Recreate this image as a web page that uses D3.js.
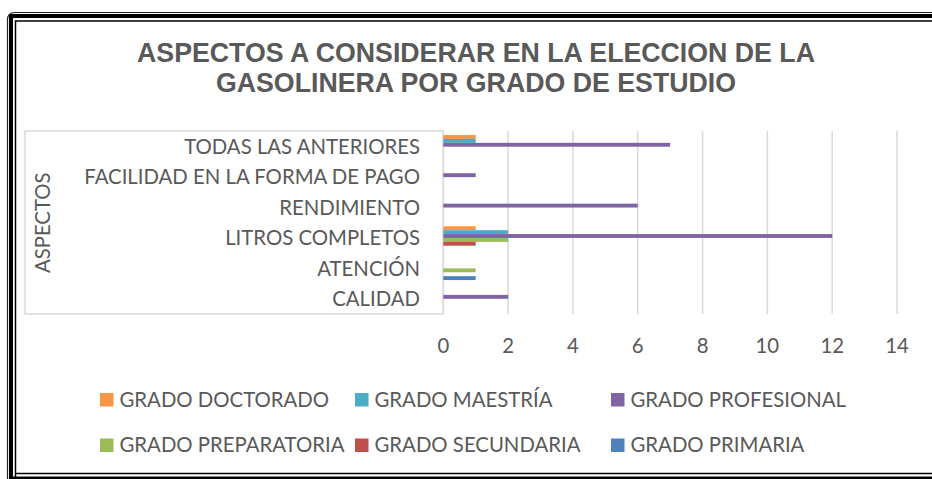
<!DOCTYPE html>
<html>
<head>
<meta charset="utf-8">
<script src="https://cdn.jsdelivr.net/npm/d3@7"></script>
<style>
  html, body { margin: 0; padding: 0; background: #ffffff; overflow: hidden; width: 932px; height: 479px; }
  svg { display: block; overflow: hidden; }
</style>
</head>
<body>
<svg id="chart" width="932" height="479" viewBox="0 0 932 479"></svg>
<script>
// ---- Data ----
const titleLines = ["ASPECTOS A CONSIDERAR EN LA ELECCION DE LA", "GASOLINERA POR GRADO DE ESTUDIO"];
const axisTitle = "ASPECTOS";
const categories = ["CALIDAD", "ATENCIÓN", "LITROS COMPLETOS", "RENDIMIENTO", "FACILIDAD EN LA FORMA DE PAGO", "TODAS LAS ANTERIORES"];
const seriesNames = ["GRADO DOCTORADO", "GRADO MAESTRÍA", "GRADO PROFESIONAL", "GRADO PREPARATORIA", "GRADO SECUNDARIA", "GRADO PRIMARIA"];
const doctorado    = [0, 0, 1, 0, 0, 1];
const maestria     = [0, 0, 2, 0, 0, 1];
const profesional  = [2, 0, 12, 6, 1, 7];
const preparatoria = [0, 1, 2, 0, 0, 0];
const secundaria   = [0, 0, 1, 0, 0, 0];
const primaria     = [0, 1, 0, 0, 0, 0];
const seriesColors = ["#F79646", "#4BACC6", "#8064A2", "#9BBB59", "#C0504D", "#4F81BD"];
const xTicks = [0, 2, 4, 6, 8, 10, 12, 14];

const seriesValues = [doctorado, maestria, profesional, preparatoria, secundaria, primaria];

const svg = d3.select("#chart");
const textColor = "#595959";
const gridColor = "#d9d9d9";
const bodyFont = "Lato, 'Open Sans', 'Noto Sans', sans-serif";

// ---- Frame (right edge lies outside the picture) ----
const frame = svg.append("g");
frame.append("path")
  .attr("d", "M7.5,479 L7.5,20 Q7.5,12.5 15,12.5 L932,12.5")
  .attr("fill", "none").attr("stroke", "#222").attr("stroke-width", 1.2);
frame.append("path")
  .attr("d", "M11,479 L11,16 L932,16")
  .attr("fill", "none").attr("stroke", "#000").attr("stroke-width", 4);
frame.append("path")
  .attr("d", "M11,478 L932,478")
  .attr("fill", "none").attr("stroke", "#000").attr("stroke-width", 3);
frame.append("path")
  .attr("d", "M15.5,479 L15.5,21 L932,21 M15.5,473.5 L932,473.5")
  .attr("fill", "none").attr("stroke", "#000").attr("stroke-width", 1.5);

// ---- Layout ----
const plot = { left: 443.3, right: 897, top: 131.5, bottom: 314 };

const x = d3.scaleLinear().domain([0, 14]).range([plot.left, plot.right]);
const y = d3.scaleBand().domain(categories.slice().reverse()).range([plot.top, plot.bottom]).paddingInner(0).paddingOuter(0);
const ySeries = d3.scaleBand().domain(seriesNames).range([0, y.bandwidth()]).paddingInner(0).paddingOuter(0.91);

// ---- Title ----
const title = svg.append("g")
  .attr("font-family", "'Liberation Sans', Arial, sans-serif")
  .attr("font-weight", "bold")
  .attr("fill", textColor)
  .attr("text-anchor", "middle");
const titleBaselines = [61.7, 92.3];
titleLines.forEach((t, i) => {
  title.append("text").attr("x", 476).attr("y", titleBaselines[i]).attr("font-size", 25).text(t);
});
(function () {
  const n = title.select("text").node();
  const w = n.getComputedTextLength();
  const fs = 25 * 678 / w;
  title.selectAll("text").attr("font-size", Math.min(fs, 27));
})();

// ---- Category box ----
svg.append("rect")
  .attr("x", 25).attr("y", plot.top - 0.5).attr("width", plot.left - 25).attr("height", plot.bottom - plot.top + 0.5)
  .attr("fill", "none").attr("stroke", gridColor).attr("stroke-width", 1.5);

// ---- Gridlines ----
svg.append("g").selectAll("line").data(xTicks).join("line")
  .attr("x1", d => x(d)).attr("x2", d => x(d))
  .attr("y1", plot.top - 0.5).attr("y2", plot.bottom)
  .attr("stroke", gridColor).attr("stroke-width", 1.5);

// ---- Bars ----
const bars = svg.append("g");
seriesNames.forEach((s, si) => {
  bars.append("g").attr("fill", seriesColors[si])
    .selectAll("rect").data(categories.map((c, ci) => ({ c, v: seriesValues[si][ci] })).filter(d => d.v > 0))
    .join("rect")
    .attr("x", x(0))
    .attr("y", d => y(d.c) + ySeries(s))
    .attr("width", d => x(d.v) - x(0))
    .attr("height", ySeries.bandwidth());
});

// ---- Text groups ----
const fs0 = 21;
const catG = svg.append("g").attr("font-family", bodyFont).attr("fill", textColor).attr("font-size", fs0);
catG.selectAll("text").data(categories).join("text")
  .attr("x", 420).attr("y", d => y(d) + y.bandwidth() / 2)
  .attr("dy", "0.36em").attr("text-anchor", "end").text(d => d);

const tickG = svg.append("g").attr("font-family", bodyFont).attr("fill", textColor).attr("font-size", fs0);
tickG.selectAll("text").data(xTicks).join("text")
  .attr("x", d => x(d)).attr("y", 346).attr("dy", "0.36em").attr("text-anchor", "middle").text(d => d);

const axT = svg.append("text")
  .attr("font-family", bodyFont).attr("fill", textColor).attr("font-size", fs0)
  .attr("transform", "translate(43," + ((plot.top + plot.bottom) / 2) + ") rotate(-90)")
  .attr("text-anchor", "middle").attr("dy", "0.36em").text(axisTitle);

const legendCols = [100, 355, 611];
const legendRows = [399.5, 445];
const legG = svg.append("g").attr("font-family", bodyFont).attr("fill", textColor).attr("font-size", fs0);
seriesNames.forEach((s, i) => {
  const cx = legendCols[i % 3], cy = legendRows[Math.floor(i / 3)];
  legG.append("rect").attr("x", cx).attr("y", cy - 6.5).attr("width", 13.5).attr("height", 13.5).attr("fill", seriesColors[i]);
  legG.append("text").attr("x", cx + 19.5).attr("y", cy).attr("dy", "0.36em").text(s);
});

(function () {
  const n = catG.selectAll("text").filter(d => d === "TODAS LAS ANTERIORES").node();
  const w = n.getComputedTextLength();
  const fs = fs0 * 236 / w;
  [catG, tickG, legG].forEach(g => g.attr("font-size", fs));
  axT.attr("font-size", fs);
})();
</script>
</body>
</html>
